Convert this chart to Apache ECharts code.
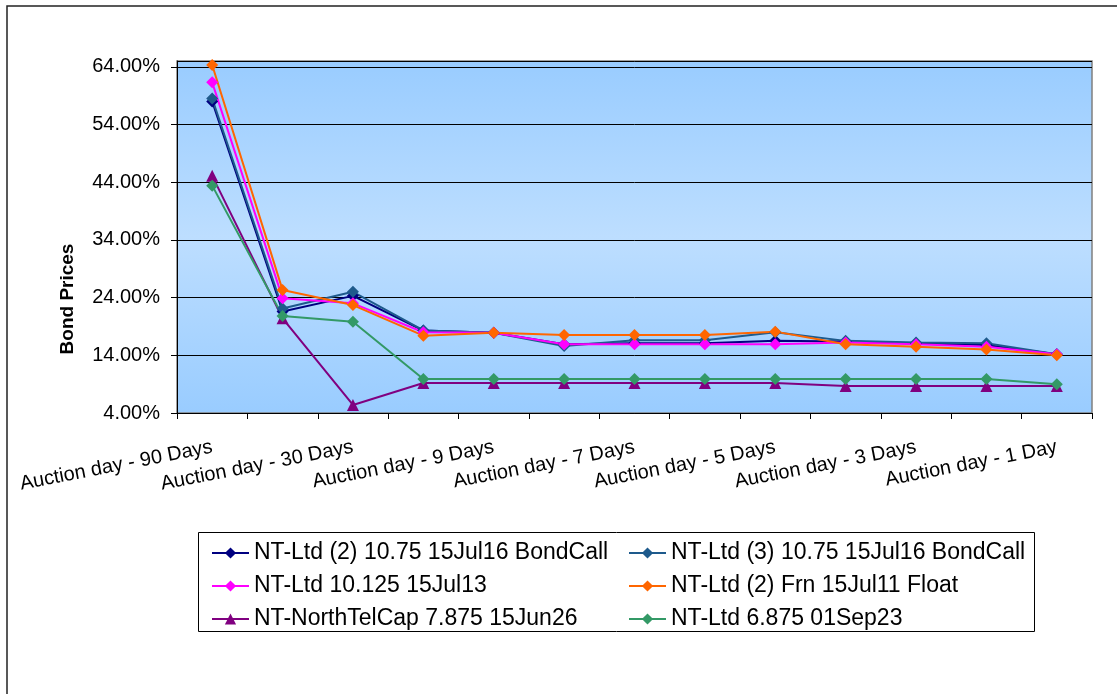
<!DOCTYPE html>
<html>
<head>
<meta charset="utf-8">
<script src="https://cdn.jsdelivr.net/npm/echarts@6/dist/echarts.min.js"></script>
<style>html,body{margin:0;padding:0;background:#fff}#c{width:1117px;height:694px}</style>
</head>
<body>
<div id="c"></div>
<script>
var categories = ['Auction day - 90 Days','Auction day - 60 Days','Auction day - 30 Days','Auction day - 10 Days','Auction day - 9 Days','Auction day - 8 Days','Auction day - 7 Days','Auction day - 6 Days','Auction day - 5 Days','Auction day - 4 Days','Auction day - 3 Days','Auction day - 2 Days','Auction day - 1 Day'];
var seriesNames = ['NT-Ltd (2) 10.75 15Jul16 BondCall','NT-Ltd (3) 10.75 15Jul16 BondCall','NT-Ltd 10.125 15Jul13','NT-Ltd (2) Frn 15Jul11 Float','NT-NorthTelCap 7.875 15Jun26','NT-Ltd 6.875 01Sep23'];
var ntLtd2_1075 = [58.0, 21.6, 24.3, 18.3, 17.9, 15.9, 16.1, 16.1, 16.5, 16.4, 16.1, 15.8, 14.2];
var ntLtd3_1075 = [58.5, 22.1, 25.0, 18.3, 17.9, 15.6, 16.6, 16.6, 18.0, 16.5, 16.2, 16.1, 14.2];
var ntLtd_10125 = [61.3, 23.9, 23.0, 18.0, 17.9, 15.9, 15.9, 15.9, 15.9, 16.2, 15.9, 15.5, 14.2];
var ntLtd2_frn  = [64.3, 25.3, 22.7, 17.4, 17.9, 17.5, 17.5, 17.5, 18.1, 15.9, 15.5, 15.0, 14.0];
var ntNorthTel  = [45.1, 20.4, 5.4, 9.2, 9.2, 9.2, 9.2, 9.2, 9.2, 8.7, 8.7, 8.7, 8.7];
var ntLtd_6875  = [43.4, 20.8, 19.8, 9.9, 9.9, 9.9, 9.9, 9.9, 9.9, 9.9, 9.9, 9.9, 9.0];
var yTicks = {min: 4, max: 65, interval: 10};

var colors = ['#000080','#1E5A8C','#FF00FF','#FF6600','#800080','#339966'];
var symbols = ['diamond','diamond','diamond','diamond','triangle','diamond'];
var datasets = [ntLtd2_1075, ntLtd3_1075, ntLtd_10125, ntLtd2_frn, ntNorthTel, ntLtd_6875];

var chart = echarts.init(document.getElementById('c'));
var series = datasets.map(function(d, i){
  return {
    name: seriesNames[i], type: 'line', data: d,
    symbol: symbols[i], symbolSize: symbols[i]==='triangle' ? 12 : 12,
    showAllSymbol: true,
    lineStyle: {color: colors[i], width: 2},
    itemStyle: {color: colors[i]},
    animation: false
  };
});
var legendText = {fontFamily: 'Arial, "Liberation Sans", sans-serif', fontSize: 23, color: '#000', lineHeight: 24};
chart.setOption({
  animation: false,
  color: colors,
  grid: {left: 177, right: 25, top: 61, bottom: 281, show: true,
    borderColor: '#808080', borderWidth: 1.5,
    backgroundColor: {type: 'linear', x: 0, y: 0, x2: 0, y2: 1, colorStops: [
      {offset: 0, color: '#99CCFF'}, {offset: 0.5, color: '#BDDEFF'}, {offset: 1, color: '#99CCFF'}]}},
  xAxis: {type: 'category', data: categories, boundaryGap: true,
    axisLine: {lineStyle: {color: '#000', width: 1}},
    axisTick: {show: true, interval: 0, length: 6, lineStyle: {color: '#000'}},
    axisLabel: {interval: 1, rotate: 11, margin: 34, color: '#000', fontSize: 20,
      fontFamily: 'Arial, "Liberation Sans", sans-serif'}},
  yAxis: {type: 'value', min: yTicks.min, max: yTicks.max, interval: yTicks.interval,
    axisLine: {show: true, lineStyle: {color: '#000', width: 1}},
    axisTick: {show: true, length: 6, lineStyle: {color: '#000'}},
    splitLine: {show: true, lineStyle: {color: '#000', width: 1}},
    axisLabel: {showMaxLabel: false, margin: 17, color: '#000', fontSize: 20,
      fontFamily: 'Arial, "Liberation Sans", sans-serif',
      formatter: function(v){ return v.toFixed(2) + '%'; }}},
  legend: [
    {data: [seriesNames[0], seriesNames[2], seriesNames[4]], orient: 'vertical', left: 206, top: 536,
      itemWidth: 37, itemHeight: 14, itemGap: 9, textStyle: legendText},
    {data: [seriesNames[1], seriesNames[3], seriesNames[5]], orient: 'vertical', left: 623, top: 536,
      itemWidth: 37, itemHeight: 14, itemGap: 9, textStyle: legendText}
  ],
  graphic: [
    {type: 'rect', shape: {x: 7, y: 6, width: 1200, height: 800}, style: {fill: 'none', stroke: '#222', lineWidth: 1.5}, silent: true, z: -1},
    {type: 'rect', shape: {x: 198.5, y: 532.5, width: 836, height: 99}, style: {fill: 'none', stroke: '#000', lineWidth: 1}, silent: true},
    {type: 'text', x: 68, y: 299, rotation: Math.PI/2,
      style: {text: 'Bond Prices', fill: '#000', font: 'bold 19px Arial, "Liberation Sans", sans-serif', textAlign: 'center', textVerticalAlign: 'middle'}}
  ],
  series: series
});
</script>
</body>
</html>
